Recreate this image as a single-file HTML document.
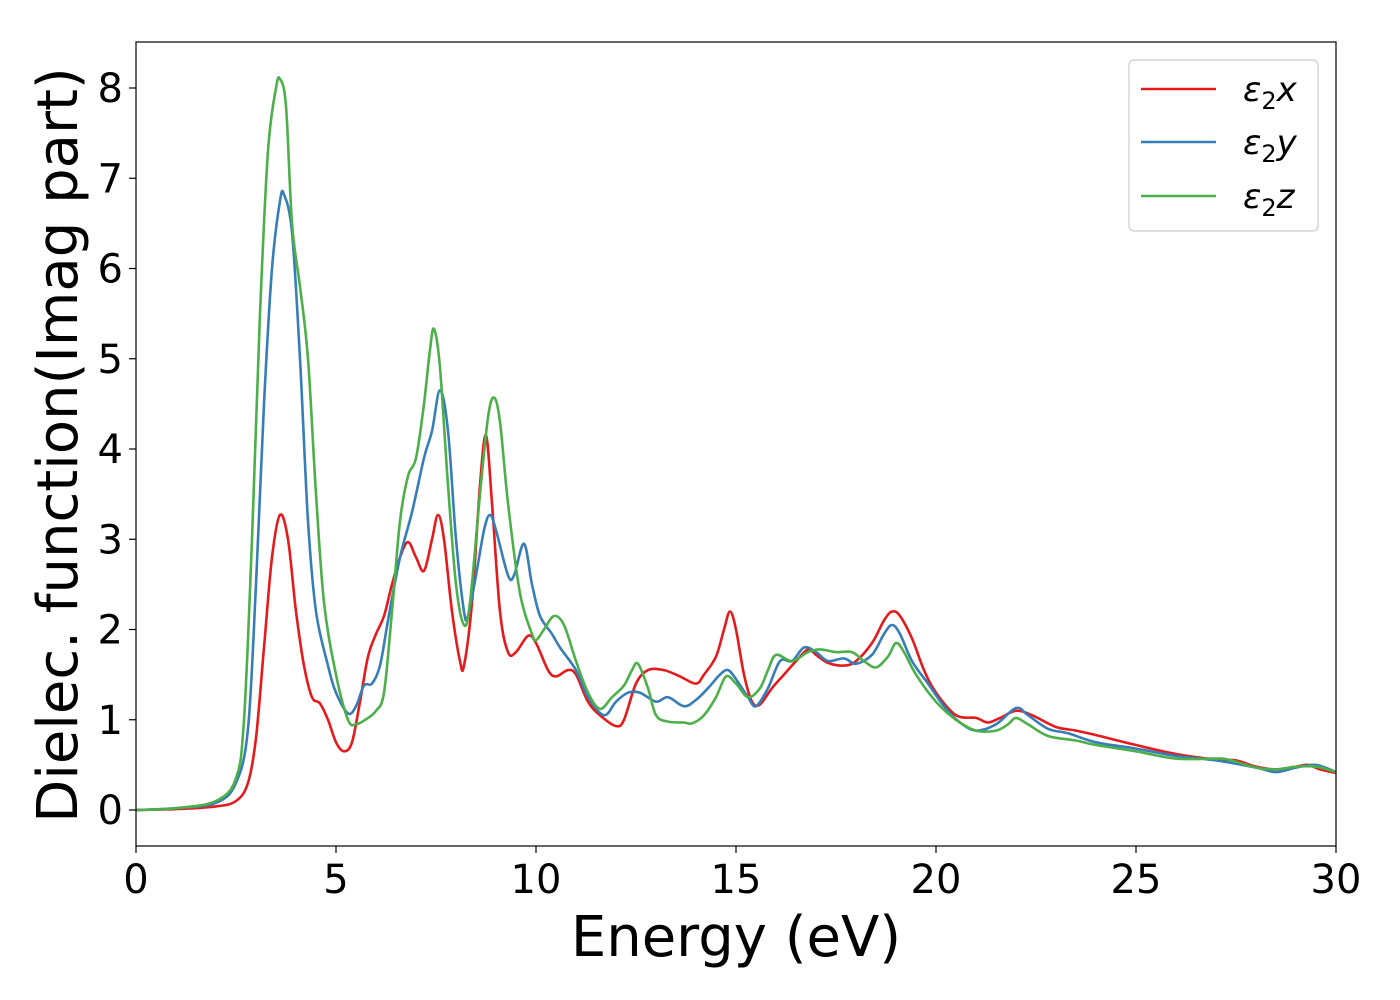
<!DOCTYPE html>
<html><head><meta charset="utf-8"><style>
html,body{margin:0;padding:0;background:#fff;}
svg{display:block;font-family:"DejaVu Sans","Liberation Sans",sans-serif;}
</style></head><body>
<svg id="chart" width="1400" height="1000" xmlns="http://www.w3.org/2000/svg">
<rect x="136" y="42" width="1200" height="804" fill="#fff" stroke="none"/>
<g id="ticks"></g>
<g id="series"></g>
<rect x="136" y="42" width="1200" height="804" fill="none" stroke="#000" stroke-width="1.2"/>
<text x="736" y="956" font-size="56" text-anchor="middle">Energy (eV)</text>
<text transform="translate(77,445) rotate(-90)" font-size="56" text-anchor="middle">Dielec. function(Imag part)</text>
<g>
<rect x="1129" y="60" width="189" height="171" rx="5" fill="#fff" stroke="#ccc" stroke-width="1.2"/>
<g><line x1="1141" y1="89" x2="1216" y2="89" stroke="#e41a1c" stroke-width="2.6"/><text x="1243" y="101" font-size="34" font-style="italic">ε<tspan font-style="normal" font-size="24" dy="8">2</tspan><tspan dy="-8">x</tspan></text></g>
<g><line x1="1141" y1="142" x2="1216" y2="142" stroke="#377eb8" stroke-width="2.6"/><text x="1243" y="154" font-size="34" font-style="italic">ε<tspan font-style="normal" font-size="24" dy="8">2</tspan><tspan dy="-8">y</tspan></text></g>
<g><line x1="1141" y1="196" x2="1216" y2="196" stroke="#4daf4a" stroke-width="2.6"/><text x="1243" y="208" font-size="34" font-style="italic">ε<tspan font-style="normal" font-size="24" dy="8">2</tspan><tspan dy="-8">z</tspan></text></g>
</g>
</svg>
<script>
const xTicks=[0,5,10,15,20,25,30];
const yTicks=[0,1,2,3,4,5,6,7,8];
const energyX=[0,1,2,2.5,2.8,3.0,3.2,3.4,3.6,3.8,4.0,4.2,4.4,4.6,4.8,5.0,5.2,5.4,5.6,5.8,6.0,6.2,6.4,6.6,6.8,7.0,7.2,7.4,7.55,7.7,7.9,8.1,8.2,8.4,8.6,8.75,8.9,9.1,9.3,9.5,9.8,10.0,10.3,10.5,10.8,11.0,11.3,11.6,12.0,12.2,12.5,12.8,13.2,13.6,14.0,14.2,14.5,14.7,14.85,15.0,15.2,15.4,15.6,15.9,16.2,16.5,16.8,17.0,17.3,17.7,18.0,18.4,18.7,18.9,19.1,19.4,19.7,20.0,20.5,21.0,21.3,21.6,22.0,22.4,23.0,23.5,24,25,26,27,27.5,28,28.5,29,29.3,29.6,30];
const epsX=[0,0.01,0.04,0.1,0.3,0.8,1.8,2.8,3.27,3.0,2.2,1.6,1.25,1.18,1.0,0.75,0.65,0.75,1.2,1.7,1.95,2.15,2.5,2.8,2.97,2.8,2.65,3.0,3.27,3.0,2.2,1.65,1.6,2.3,3.6,4.15,3.4,2.2,1.75,1.75,1.93,1.85,1.55,1.48,1.55,1.5,1.2,1.05,0.93,1.0,1.4,1.55,1.55,1.48,1.4,1.5,1.7,2.0,2.2,2.0,1.5,1.2,1.17,1.35,1.5,1.65,1.78,1.72,1.63,1.6,1.65,1.85,2.1,2.2,2.15,1.9,1.55,1.3,1.05,1.02,0.97,1.02,1.1,1.05,0.92,0.88,0.83,0.72,0.62,0.56,0.55,0.48,0.45,0.48,0.5,0.45,0.41];
const energyY=[0,1,2,2.5,2.8,3.0,3.2,3.4,3.6,3.7,3.9,4.1,4.3,4.5,4.8,5.0,5.3,5.5,5.7,5.9,6.1,6.3,6.6,6.9,7.2,7.4,7.6,7.8,8.0,8.2,8.3,8.5,8.7,8.85,9.0,9.3,9.45,9.7,9.9,10.1,10.4,10.6,11.0,11.3,11.7,12.0,12.3,12.6,13.0,13.3,13.7,14.0,14.3,14.6,14.8,15.0,15.3,15.5,15.8,16.1,16.4,16.7,17.0,17.3,17.7,18.0,18.4,18.7,18.9,19.1,19.4,19.8,20.2,20.6,21.0,21.5,22.0,22.3,22.8,23.3,24.0,25,26,27,28,28.5,29,29.5,30];
const epsY=[0,0.02,0.08,0.3,0.9,2.5,4.5,6.0,6.75,6.82,6.4,5.0,3.2,2.2,1.6,1.3,1.07,1.15,1.38,1.4,1.6,2.1,2.8,3.3,3.9,4.2,4.65,4.2,3.0,2.2,2.15,2.6,3.1,3.27,3.1,2.6,2.6,2.95,2.5,2.15,1.95,1.8,1.55,1.25,1.05,1.2,1.3,1.3,1.2,1.25,1.15,1.22,1.35,1.5,1.55,1.45,1.25,1.15,1.35,1.65,1.65,1.8,1.75,1.65,1.68,1.62,1.72,1.95,2.05,1.95,1.65,1.4,1.15,0.97,0.88,0.95,1.13,1.05,0.9,0.85,0.75,0.68,0.6,0.55,0.47,0.42,0.47,0.5,0.42];
const energyZ=[0,1,2,2.5,2.7,2.9,3.1,3.3,3.5,3.6,3.75,3.9,4.1,4.3,4.5,4.7,5.0,5.3,5.5,5.8,6.0,6.2,6.4,6.6,6.8,7.0,7.2,7.35,7.45,7.6,7.8,8.0,8.2,8.35,8.6,8.8,8.95,9.1,9.3,9.6,9.9,10.0,10.2,10.45,10.7,11.0,11.3,11.6,11.9,12.2,12.4,12.55,12.8,13.0,13.3,13.7,13.9,14.2,14.5,14.75,15.0,15.3,15.6,15.8,16.0,16.4,16.8,17.1,17.5,17.9,18.2,18.5,18.8,19.0,19.2,19.5,20.0,20.5,21.0,21.5,21.8,22.0,22.3,22.8,23.5,24.0,25,26,27,27.3,28,28.5,29,29.5,30];
const epsZ=[0,0.02,0.1,0.35,1.0,3.0,5.5,7.3,8.0,8.1,7.8,6.5,5.8,5.0,3.5,2.3,1.5,1.0,0.95,1.02,1.1,1.3,2.2,3.2,3.7,3.9,4.5,5.1,5.33,4.9,3.6,2.5,2.05,2.3,3.5,4.35,4.57,4.3,3.4,2.4,1.95,1.88,2.0,2.15,2.05,1.65,1.3,1.12,1.25,1.38,1.55,1.62,1.35,1.05,0.98,0.97,0.96,1.05,1.25,1.48,1.4,1.25,1.35,1.55,1.72,1.65,1.75,1.78,1.75,1.75,1.65,1.58,1.7,1.85,1.75,1.5,1.2,1.0,0.88,0.88,0.95,1.02,0.95,0.82,0.77,0.72,0.65,0.57,0.57,0.56,0.47,0.45,0.48,0.48,0.42];

const X0=136,X1=1336,Y0=810,YS=90.25;
function sx(v){return X0+(v-0)/30*(X1-X0);}
function sy(v){return Y0-v*YS;}
const NS="http://www.w3.org/2000/svg";
const ticks=document.getElementById('ticks');
xTicks.forEach(t=>{
  const l=document.createElementNS(NS,'line');
  
  
  l.setAttribute('x1',sx(t));l.setAttribute('x2',sx(t));l.setAttribute('y1',846);l.setAttribute('y2',853);l.setAttribute('stroke','#000');l.setAttribute('stroke-width','1.2');
  ticks.appendChild(l);
  const tx=document.createElementNS(NS,'text');
  
  
  tx.setAttribute('x',sx(t));tx.setAttribute('y',893);tx.setAttribute('font-size','40');tx.setAttribute('text-anchor','middle');
  tx.textContent=t;ticks.appendChild(tx);
});
yTicks.forEach(t=>{
  const l=document.createElementNS(NS,'line');
  
  
  l.setAttribute('x1',129);l.setAttribute('x2',136);l.setAttribute('y1',sy(t));l.setAttribute('y2',sy(t));l.setAttribute('stroke','#000');l.setAttribute('stroke-width','1.2');
  ticks.appendChild(l);
  const tx=document.createElementNS(NS,'text');
  
  
  tx.setAttribute('x',123);tx.setAttribute('y',sy(t)+14);tx.setAttribute('font-size','40');tx.setAttribute('text-anchor','end');
  tx.textContent=t;ticks.appendChild(tx);
});
function smooth(xs,ys){
  const p=xs.map((x,i)=>[sx(x),sy(ys[i])]);
  let d='M'+p[0][0].toFixed(1)+','+p[0][1].toFixed(1);
  for(let i=0;i<p.length-1;i++){
    const a=p[Math.max(0,i-1)],b=p[i],c=p[i+1],e=p[Math.min(p.length-1,i+2)];
    const c1=[b[0]+(c[0]-a[0])/6,b[1]+(c[1]-a[1])/6];
    const c2=[c[0]-(e[0]-b[0])/6,c[1]-(e[1]-b[1])/6];
    d+='C'+c1[0].toFixed(1)+','+c1[1].toFixed(1)+' '+c2[0].toFixed(1)+','+c2[1].toFixed(1)+' '+c[0].toFixed(1)+','+c[1].toFixed(1);
  }
  return d;
}
const g=document.getElementById('series');
[[energyX,epsX,'#e41a1c','line-eps2-x'],[energyY,epsY,'#377eb8','line-eps2-y'],[energyZ,epsZ,'#4daf4a','line-eps2-z']].forEach(s=>{
  const p=document.createElementNS(NS,'path');
  
  
  p.setAttribute('d',smooth(s[0],s[1]));p.setAttribute('fill','none');p.setAttribute('stroke',s[2]);p.setAttribute('stroke-width','2.6');p.setAttribute('stroke-linejoin','round');
  g.appendChild(p);
});
</script>
</body></html>
